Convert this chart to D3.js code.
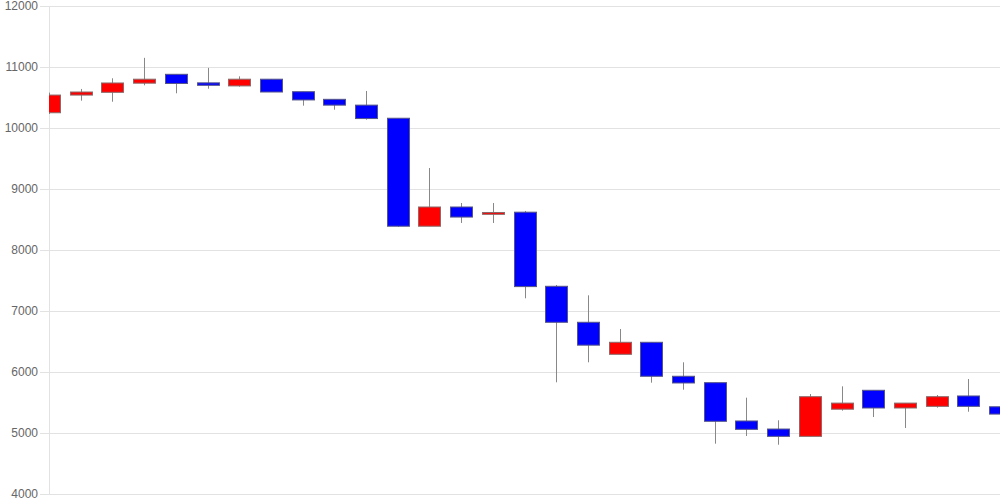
<!DOCTYPE html>
<html lang="en">
<head>
  <meta charset="UTF-8">
  <title>Candles</title>
  <style>
    body { margin: 0; background: #ffffff; }
    #thesvg { width: 1000px; height: 500px; display: block; }
    .tick text { font-family: "Liberation Sans", Arial, sans-serif; font-size: 12px; fill: #666; }
  </style>
</head>
<body>
  <svg id="thesvg"></svg>
  <script src="https://d3js.org/d3.v7.min.js"></script>
  <script>
    // daily prices, oldest first
    var opens  = [10250, 10540, 10585, 10735, 10880, 10740, 10690, 10800, 10595, 10470,
                  10375, 10160, 8390, 8705, 8585, 8620, 7405, 6815, 6290, 6487,
                  5930, 5825, 5197, 5065, 4945, 5390, 5700, 5410, 5437, 5607, 5430];
    var highs  = [10580, 10640, 10815, 11150, 10880, 10985, 10847, 10800, 10595, 10470,
                  10607, 10160, 9344, 8770, 8770, 8640, 7426, 7257, 6705, 6487,
                  6159, 5825, 5579, 5208, 5639, 5765, 5700, 5492, 5623, 5885, 5430];
    var lows   = [10230, 10448, 10431, 10700, 10569, 10644, 10677, 10590, 10366, 10300,
                  10136, 8380, 8390, 8443, 8443, 7208, 5831, 6159, 6290, 5825,
                  5710, 4825, 4951, 4808, 4945, 5366, 5262, 5082, 5415, 5349, 5000];
    var closes = [10540, 10590, 10738, 10800, 10730, 10700, 10800, 10590, 10460, 10375,
                  10155, 8390, 8705, 8540, 8615, 7400, 6815, 6440, 6487, 5930,
                  5820, 5192, 5060, 4945, 5595, 5490, 5410, 5490, 5595, 5437, 5310];
    var yTicks = [4000, 5000, 6000, 7000, 8000, 9000, 10000, 11000, 12000];

    var data = opens.map(function(o, i) {
      return { i: i, open: o, high: highs[i], low: lows[i], close: closes[i] };
    });

    var svg = d3.select("svg");
    var m = { left: 49, right: 1000, top: 6, bottom: 494 };
    var candleW = 22;

    var x = d3.scalePoint()
      .domain(data.map(d => d.i))
      .range([m.left, m.right]);

    var y = d3.scaleLinear()
      .domain([4000, 12000])
      .range([m.bottom, m.top]);

    svg.append("defs").append("clipPath").attr("id", "plot")
      .append("rect")
      .attr("x", m.left).attr("y", 0)
      .attr("width", m.right - m.left).attr("height", 500);

    // grid + labels
    var axis = svg.append("g")
      .attr("transform", "translate(" + m.left + ",0)")
      .call(d3.axisLeft(y).tickValues(yTicks).tickFormat(d3.format("d"))
        .tickSize(9).tickPadding(2));
    axis.select(".domain").remove();
    axis.selectAll(".tick line")
      .attr("x1", -9)
      .attr("x2", m.right - m.left)
      .attr("stroke", "#e2e2e2");

    svg.append("line")
      .attr("x1", m.left + 0.5).attr("x2", m.left + 0.5)
      .attr("y1", m.top).attr("y2", m.bottom)
      .attr("stroke", "#e2e2e2");

    var g = svg.append("g").attr("clip-path", "url(#plot)");

    g.selectAll(".wick")
      .data(data)
      .enter()
      .append("line")
      .attr("class", "wick")
      .attr("x1", d => Math.round(x(d.i)) + 0.5)
      .attr("x2", d => Math.round(x(d.i)) + 0.5)
      .attr("y1", d => y(d.high))
      .attr("y2", d => y(d.low))
      .attr("stroke", "#888");

    g.selectAll(".body")
      .data(data)
      .enter()
      .append("rect")
      .attr("class", "body")
      .attr("x", d => Math.round(x(d.i) - candleW / 2) + 0.5)
      .attr("y", d => y(Math.max(d.open, d.close)))
      .attr("width", candleW)
      .attr("height", d => Math.max(1, Math.abs(y(d.open) - y(d.close))))
      .attr("fill", d => d.close >= d.open ? "#ff0000" : "#0000ff")
      .attr("stroke", d => d.close >= d.open ? "#8a6a6a" : "#55558a")
      .attr("stroke-width", 1);
  </script>
</body>
</html>
